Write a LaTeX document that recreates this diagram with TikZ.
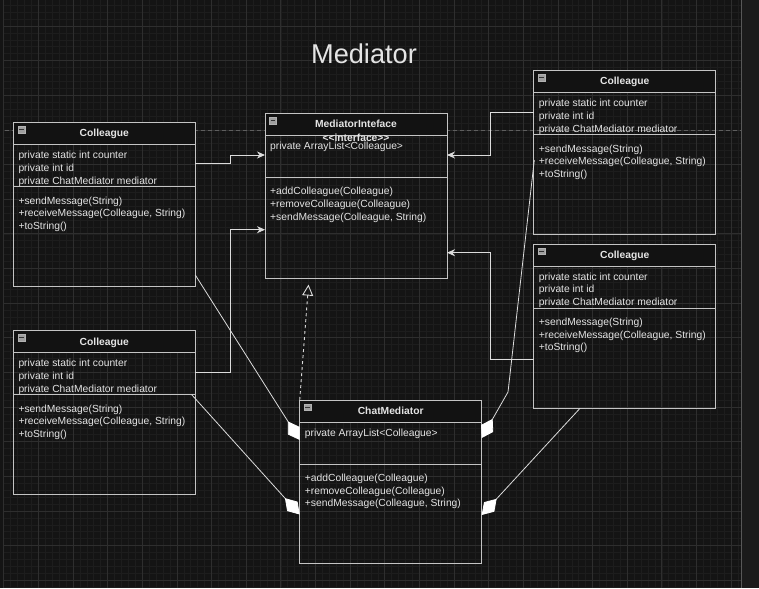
\documentclass[tikz,border=0pt]{standalone}
\usepackage{fontspec}
\setmainfont{Liberation Sans}
\usetikzlibrary{arrows.meta,calc}
\definecolor{bgc}{HTML}{141414}
\definecolor{sidec}{HTML}{1B1B1B}
\definecolor{minorc}{HTML}{1D1D1D}
\definecolor{majorc}{HTML}{2E2E2E}
\definecolor{boxc}{HTML}{C4C4C4}
\definecolor{txtc}{HTML}{E4E4E4}
\definecolor{lnkc}{HTML}{DCDCDC}
\definecolor{hdrc}{HTML}{121212}
\definecolor{dashc}{HTML}{5E5E5E}
\newcommand{\bodyfont}{\fontsize{10.3}{12.6}\selectfont}
\newcommand{\umlcls}[7]{%
  \fill[hdrc] (#2,#3) rectangle ++(182,22);
  \node[umlbox, minimum height=#4pt] (#1) at (#2,#3) {};
  \draw[boxline] ($(#1.north west)+(0,22)$) -- ($(#1.north east)+(0,22)$);
  \draw[boxline] ($(#1.north west)+(0,64)$) -- ($(#1.north east)+(0,64)$);
  \node[titletext] (#1-t) at ($(#1.north)+(0,14.3)$) {#5};
  \node[iconbox] (#1-i) at ($(#1.north west)+(8,7.2)$) {};
  \draw[black!80, line width=1pt] ($(#1-i.west)+(1.3,0)$) -- ($(#1-i.east)+(-1.3,0)$);
  \foreach \txt [count=\k] in {#6} {
    \node[bodytext] (#1-a\k) at ($(#1.north west)+(5,36.2+12.6*\k-12.6)$) {\txt};
  }
  \foreach \txt [count=\k] in {#7} {
    \node[bodytext] (#1-m\k) at ($(#1.north west)+(5,81.4+12.7*\k-12.7)$) {\txt};
  }
}
\begin{document}
\begin{tikzpicture}[x=1pt,y=-1pt,
  umlbox/.style={draw=boxc, line width=0.9pt, minimum width=182pt, anchor=north west, inner sep=0pt, outer sep=0pt},
  boxline/.style={draw=boxc, line width=0.9pt},
  titletext/.style={anchor=base, inner sep=0pt, text=txtc, font=\bodyfont\bfseries},
  bodytext/.style={anchor=base west, inner sep=0pt, text=txtc, font=\bodyfont},
  iconbox/.style={draw=gray!60, fill=gray!75, minimum width=7pt, minimum height=6.5pt, inner sep=0pt},
  gridminor/.style={draw=minorc, line width=0.6pt},
  gridmajor/.style={draw=majorc, line width=0.8pt},
  assoc/.style={draw=lnkc, line width=0.9pt, -{Stealth[length=8pt,width=7pt,inset=2.5pt]}},
  agg/.style={draw=lnkc, line width=0.8pt, -{Diamond[length=22pt,width=14pt,fill=white,color=white]}},
  realize/.style={draw=lnkc, line width=0.9pt, dash pattern=on 3pt off 3pt, -{Triangle[open,length=11pt,width=11pt]}}
]
% background
\fill[bgc] (0,0) rectangle (759,588);
\useasboundingbox (0,0) rectangle (759,588);
\fill[sidec] (741.5,0) rectangle (759,588);
% grid
\foreach \i in {0,...,106} {
  \pgfmathsetmacro\xx{3.7+\i*6.928}
  \draw[gridminor] (\xx,0) -- (\xx,588);
}
\foreach \i in {0,...,85} {
  \pgfmathsetmacro\yy{-1.7+\i*6.928}
  \draw[gridminor] (3.7,\yy) -- (741.5,\yy);
}
\foreach \i in {0,...,21} {
  \pgfmathsetmacro\xx{3.7+\i*34.64}
  \draw[gridmajor] (\xx,0) -- (\xx,588);
}
\foreach \i in {0,...,17} {
  \pgfmathsetmacro\yy{-8.64+\i*34.64}
  \draw[gridmajor] (3.7,\yy) -- (741.5,\yy);
}
\draw[majorc!80!white, line width=1pt] (741.5,0) -- (741.5,588);
% horizontal dashed guide
\coordinate (gl) at (5,130.6);
\coordinate (gr) at (741,130.6);
\draw[dashc, line width=0.9pt, dash pattern=on 4pt off 3pt] (gl) -- (gr);
% title
\node[text=txtc, font=\fontsize{27.2}{30}\selectfont] (title) at (364,54) {Mediator};
% classes
\umlcls{cTL}{13.3}{122.7}{164}{Colleague}
  {{private static int counter},{private int id},{private ChatMediator mediator}}
  {{+sendMessage(String)},{+receiveMessage(Colleague, String)},{+toString()}}
\umlcls{cBL}{13.3}{330.7}{164}{Colleague}
  {{private static int counter},{private int id},{private ChatMediator mediator}}
  {{+sendMessage(String)},{+receiveMessage(Colleague, String)},{+toString()}}
\umlcls{cTR}{533.7}{70.7}{164}{Colleague}
  {{private static int counter},{private int id},{private ChatMediator mediator}}
  {{+sendMessage(String)},{+receiveMessage(Colleague, String)},{+toString()}}
\umlcls{cBR}{533.7}{244}{164.3}{Colleague}
  {{private static int counter},{private int id},{private ChatMediator mediator}}
  {{+sendMessage(String)},{+receiveMessage(Colleague, String)},{+toString()}}
\umlcls{mi}{265}{113.3}{165}{MediatorInteface}
  {{private ArrayList<Colleague>}}
  {{+addColleague(Colleague)},{+removeColleague(Colleague)},{+sendMessage(Colleague, String)}}
\node[titletext] (mi-st) at ($(mi.north)+(0,27.8)$) {<\kern0pt<interface>\kern0pt>};
\umlcls{cm}{299.7}{400}{163.7}{ChatMediator}
  {{private ArrayList<Colleague>}}
  {{+addColleague(Colleague)},{+removeColleague(Colleague)},{+sendMessage(Colleague, String)}}
% associations to the interface
\draw[assoc] ($(cTL.north east)+(0,41)$) -- ++(35.5,0) |- ($(mi.north west)+(0,41.7)$);
\draw[assoc] ($(cBL.north east)+(0,41.3)$) -- ++(35.5,0) |- ($(mi.north west)+(0,116.4)$);
\draw[assoc] ($(cTR.north west)+(0,41.6)$) -- ++(-43,0) |- ($(mi.north east)+(0,41.7)$);
\draw[assoc] ($(cBR.north west)+(0,115.3)$) -- ++(-43,0) |- ($(mi.north east)+(0,139.4)$);
% realization
\coordinate (rtip) at ($(mi.south west)+(43.5,6.3)$);
\draw[realize] (cm.north west) -- (rtip);
% aggregations
\draw[agg] ($(cTL.south east)+(0,-11.7)$) -- ($(cm.north west)+(0,40)$);
\draw[agg] ($(cBL.north east)+(-3.6,64)$) -- ($(cm.north west)+(0,114.5)$);
\coordinate (bend) at (508,392);
\draw[agg] ($(cTR.north west)+(0.6,89.3)$) -- (bend) -- ($(cm.north east)+(0,38)$);
\draw[agg] ($(cBR.south west)+(46.3,0)$) -- ($(cm.north east)+(0,115)$);
\end{tikzpicture}
\end{document}
